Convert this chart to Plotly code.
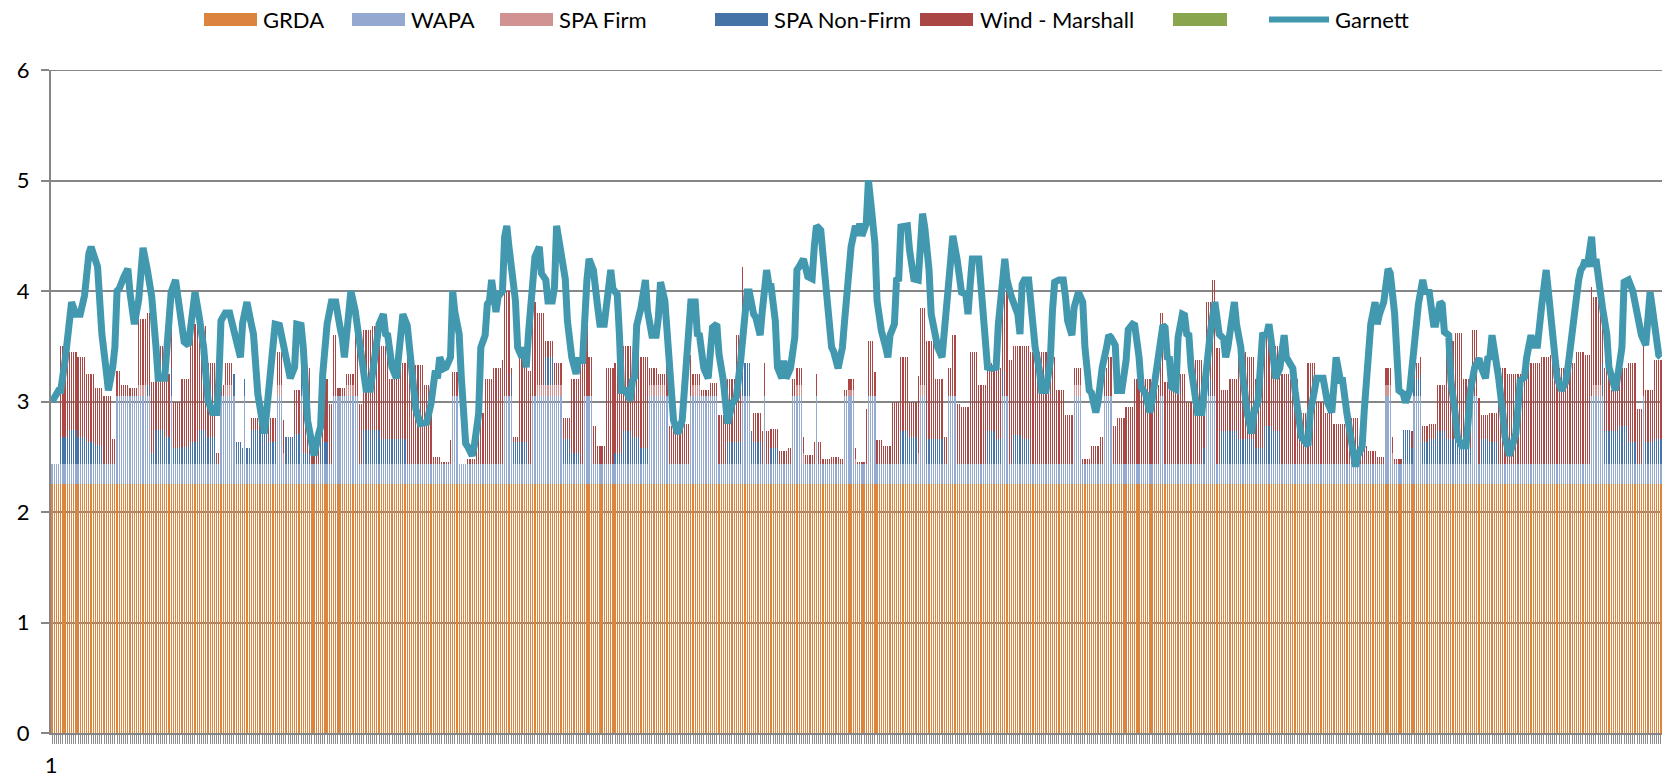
import numpy as np
import plotly.graph_objects as go

# ---------------- data ----------------
hours = list(range(1, 745))          # hourly categories (one month)
block_hours = 4                      # bar components read in 4-hour blocks

grda_level = 2.25
wapa_base = 0.18
wapa_high = 0.80
# hour ranges (inclusive) where WAPA reaches its high level
wapa_high_ranges = [(31, 46), (56, 56), (79, 85), (90, 90), (105, 107), (116, 116),
                    (131, 142), (186, 188), (210, 213), (223, 236), (247, 250),
                    (277, 285), (296, 308), (320, 323), (330, 330), (343, 347),
                    (354, 354), (367, 371), (378, 381), (402, 404), (415, 418),
                    (440, 442), (473, 476), (487, 490), (513, 514), (534, 538),
                    (617, 619), (630, 633), (657, 659), (712, 717), (736, 736)]

spa_nonfirm_blocks = [
    0, .25, .31, .25, .2, .18, 0, 0, 0, 0, 0, .1, .31, .25, .15, .16, .2, .31, .25, 0,
    0, .2, .15, .31, .31, .2, 0, .25, .28, .1, 0, .2, 0, 0, 0, 0, .31, .31, .23, .23,
    .23, 0, 0, 0, 0, 0, 0, 0, 0, 0, 0, 0, 0, .2, .2, 0, 0, .25, 0, .23,
    .1, 0, 0, 0, 0, .1, .3, .25, .15, 0, 0, 0, 0, 0, 0, 0, 0, 0, .2, .2,
    .3, .2, 0, .15, 0, 0, 0, 0, 0, 0, 0, 0, 0, 0, 0, 0, 0, 0, .3, .25,
    0, .23, .23, 0, 0, 0, 0, 0, .3, .23, 0, .27, .23, 0, 0, 0, 0, 0, 0, 0,
    0, 0, 0, 0, 0, 0, 0, 0, 0, 0, 0, 0, 0, .15, 0, .3, .3, .23, .23, .15,
    .35, .3, 0, 0, 0, 0, 0, 0, 0, 0, 0, 0, 0, 0, 0, 0, .31, .15, .2, .23,
    .3, .23, .23, .15, 0, .23, .2, 0, 0, 0, 0, 0, 0, 0, 0, 0, 0, 0, 0, .3,
    .3, .35, .2, 0, .2, .23]

spa_firm_blocks = [
    0, 0, 0, 0, 0, 0, 0, 0, 0, 0, .1, 0, 0, 0, 0, 0, 0, 0, 0, 0,
    .1, 0, 0, 0, 0, 0, .1, 0, 0, 0, 0, 0, 0, 0, .1, 0, 0, 0, 0, 0,
    0, 0, 0, 0, 0, 0, 0, 0, 0, 0, 0, 0, 0, 0, 0, 0, .1, .1, .1, 0,
    0, 0, 0, 0, 0, 0, 0, 0, 0, .1, .1, 0, 0, 0, .1, 0, 0, 0, 0, 0,
    0, 0, 0, 0, 0, 0, .1, 0, 0, 0, 0, 0, .05, 0, 0, 0, 0, 0, 0, 0,
    .1, 0, 0, 0, 0, 0, 0, 0, 0, 0, 0, 0, 0, 0, 0, 0, 0, 0, .1, 0,
    0, 0, 0, 0, 0, 0, 0, 0, 0, 0, 0, 0, 0, 0, 0, 0, 0, 0, 0, 0,
    0, 0, 0, 0, 0, 0, 0, 0, 0, 0, 0, 0, 0, 0, .1, 0, 0, 0, 0, 0,
    0, 0, 0, 0, 0, 0, 0, 0, 0, 0, 0, 0, 0, 0, 0, 0, 0, 0, .1, 0,
    0, 0, 0, 0, 0, 0]

wind_blocks = [
    0, .82, .71, .72, .62, .51, .62, .23, .10, .07, .60, .65, .76, .57, .42, .61, 1.07, .94, .67, .10,
    .20, 0, 0, .11, .16, .22, .30, 0, .39, .77, .17, .57, .55, .07, .10, .55, .91, .94, .84, .54,
    .69, .97, .90, .72, .07, .02, .22, 0, .05, .47, .77, .87, .95, .05, .82, .85, .65, .15, .20, .19,
    .67, .97, .35, .17, .87, .82, .77, .77, .82, .15, .10, .35, .35, .37, .10, .05, .12, .45, .57, .97,
    0, .27, .30, .17, .12, .15, .15, .09, .20, .05, .07, .05, .10, .02, .50, .22, .17, .57, .67, .32,
    .70, .89, .54, .25, .55, .52, 1.02, .72, .62, .64, .95, .80, .84, 1.02, 1.02, .97, .67, .45, .15, .05,
    .17, .25, .35, .42, .52, .77, .77, .72, .75, .67, .82, .57, .95, .70, 1.05, .37, .47, .79, .74, .62,
    .82, .77, .82, .77, .47, .92, .57, .47, .37, .37, .42, .17, .12, .07, .15, .05, 0, .15, .15, .14,
    .42, .89, .96, .62, .60, .22, .27, .87, .82, .82, .92, .92, .97, .99, .87, .92, 1.02, .99, .80, .57,
    .37, .52, .72, .50, .47, .72]

garnett_hours = [
    1, 4, 5, 7, 10, 12, 14, 15, 16, 18, 19, 22, 24, 26, 27, 29, 30, 31, 32, 34, 36, 37, 39, 41, 43, 45,
    47, 49, 50, 53, 56, 58, 60, 62, 64, 66, 67, 69, 71, 73, 75, 77, 78, 79, 81, 83, 86, 88, 89, 91, 93,
    94, 96, 98, 99, 100, 103, 104, 106, 107, 109, 111, 113, 114, 116, 117, 119, 122, 124,
    125, 126, 128, 130, 132, 134, 135, 136, 137, 139, 141, 143, 145, 146, 148, 150, 152, 154, 155, 156,
    158, 160, 162, 163, 165, 167, 169, 171, 174, 176, 178, 179, 180, 182, 183, 185, 186, 187, 189, 190,
    192, 193, 195, 196, 198, 199, 201, 202, 203, 204, 205, 206, 207, 209, 210, 211, 212, 215, 216, 218,
    219, 220, 221, 223, 224, 226, 227, 229, 230, 232, 233, 234, 235, 236, 237, 238, 239, 241, 243, 244,
    246, 247, 248, 249, 251, 253, 254, 256, 258, 259, 260, 262, 263, 264, 266, 268, 269, 270, 271, 273,
    275, 276, 278, 280, 281, 282, 284, 285, 287, 288, 290, 292, 293, 295, 296, 298, 299, 300, 302, 304,
    305, 306, 308, 309, 311, 313, 315, 317, 319, 321, 322, 323, 324, 325, 326, 328, 329, 330, 331, 332,
    333, 335, 336, 338, 339, 340, 342, 344, 345, 346, 348, 350, 352, 353, 354, 356, 357, 359, 361, 362,
    364, 366, 367, 369, 370, 372, 373, 374, 375, 377, 378, 379, 381, 382, 384, 386, 387, 388, 390, 391,
    392, 393, 396, 397, 399, 401, 402, 403, 404, 406, 407, 409, 410, 412, 413, 415, 417, 419, 420, 421,
    423, 424, 425, 426, 429, 430, 432, 433, 435, 437, 438, 440, 441, 442, 444, 447, 448, 449, 450, 452,
    453, 455, 457, 458, 460, 462, 463, 464, 466, 468, 469, 470, 472, 473, 475, 477, 478, 480, 481, 483,
    484, 486, 488, 489, 490, 492, 493, 495, 497, 498, 500, 501, 503, 504, 506, 508, 509, 511, 512, 514,
    515, 516, 517, 518, 520, 521, 523, 524, 525, 526, 527, 529, 530, 532, 533, 535, 536, 538, 539, 540,
    542, 543, 544, 546, 547, 548, 550, 551, 553, 555, 556, 558, 559, 560, 562, 563, 565, 566, 568, 570,
    571, 572, 574, 575, 577, 578, 581, 582, 584, 585, 588, 589, 590, 592, 593, 594, 596, 597, 599, 601,
    603, 604, 606, 607, 608, 610, 612, 613, 614, 616, 618, 619, 621, 623, 625, 626, 628, 629, 630, 631,
    632, 634, 635, 637, 638, 639, 640, 642, 643, 644, 646, 647, 649, 650, 652, 654, 655, 656, 658, 660,
    661, 663, 664, 665, 666, 667, 669, 671, 672, 674, 676, 677, 679, 681, 682, 684, 685, 687, 689, 690,
    691, 692, 693, 695, 696, 698, 700, 701, 703, 704, 706, 707, 708, 709, 710, 712, 713, 714, 715, 717,
    719, 720, 722, 723, 724, 726, 727, 729, 731, 733, 735, 737, 739, 740, 742, 743, 744]

garnett_values = [
    3.0, 3.1, 3.1, 3.37, 3.9, 3.79, 3.79, 3.9, 3.96, 4.34, 4.4, 4.22, 3.61, 3.28, 3.1, 3.31, 3.49, 4.0,
    4.02, 4.12, 4.2, 3.98, 3.7, 3.92, 4.39, 4.19, 3.95, 3.49, 3.21, 3.21, 3.99, 4.1, 3.85, 3.54, 3.51,
    3.88, 3.99, 3.76, 3.49, 3.01, 2.9, 2.9, 3.19, 3.73, 3.8, 3.8, 3.52, 3.4, 3.71, 3.9, 3.7, 3.61, 3.07,
    2.8, 2.71, 2.89, 3.49, 3.7, 3.69, 3.58, 3.37, 3.21, 3.31, 3.7, 3.69, 3.49, 2.83, 2.51, 2.7,
    2.77, 3.25, 3.7, 3.9, 3.9, 3.67, 3.58, 3.4, 3.67, 4.0, 3.82, 3.58, 3.25, 3.11, 3.11, 3.4, 3.7, 3.79,
    3.61, 3.6, 3.31, 3.21, 3.61, 3.79, 3.69, 3.31, 2.93, 2.8, 2.81, 2.98, 3.28, 3.21, 3.4, 3.3, 3.31,
    3.4, 4.0, 3.81, 3.61, 3.22, 2.62, 2.59, 2.51, 2.6, 2.89, 3.49, 3.6, 3.88, 3.91, 4.1, 3.91, 3.81,
    3.95, 4.0, 4.49, 4.59, 4.4, 3.91, 3.49, 3.4, 3.49, 3.31, 3.61, 4.19, 4.31, 4.4, 4.16, 4.1, 3.91,
    3.91, 4.03, 4.59, 4.46, 4.38, 4.25, 4.11, 3.73, 3.4, 3.25, 3.37, 3.37, 3.85, 4.1, 4.29, 4.19, 3.85,
    3.7, 3.7, 4.06, 4.19, 4.02, 3.97, 3.61, 3.1, 3.1, 3.01, 3.19, 3.22, 3.69, 3.85, 4.1, 3.82, 3.6, 3.6,
    3.76, 4.08, 3.91, 3.64, 3.19, 2.83, 2.71, 2.83, 3.1, 3.79, 3.9, 3.9, 3.61, 3.6, 3.3, 3.21, 3.46,
    3.67, 3.7, 3.43, 3.19, 2.8, 2.98, 3.04, 3.37, 3.82, 3.99, 3.99, 3.85, 3.79, 3.76, 3.6, 3.82, 4.1,
    4.19, 4.06, 4.05, 3.73, 3.31, 3.21, 3.37, 3.21, 3.3, 3.58, 4.19, 4.22, 4.29, 4.13, 4.11, 4.4, 4.59,
    4.55, 4.29, 3.91, 3.49, 3.45, 3.3, 3.49, 3.73, 4.13, 4.4, 4.59, 4.5, 4.61, 4.5, 4.61, 5.0, 4.82,
    4.43, 3.91, 3.64, 3.49, 3.4, 3.6, 3.7, 4.1, 4.11, 4.58, 4.59, 4.37, 4.11, 4.1, 4.58, 4.7, 4.58,
    4.19, 3.79, 3.52, 3.49, 3.4, 3.64, 4.19, 4.5, 4.28, 4.16, 3.99, 3.97, 3.79, 4.06, 4.29, 4.29, 4.0,
    3.61, 3.31, 3.3, 3.31, 3.7, 4.1, 4.29, 4.1, 3.95, 3.79, 3.61, 4.06, 4.1, 4.1, 3.88, 3.49, 3.28, 3.1,
    3.1, 3.37, 3.82, 4.08, 4.1, 4.1, 3.95, 3.73, 3.6, 3.85, 3.99, 3.9, 3.49, 3.1, 3.08, 2.9, 2.99, 3.31,
    3.49, 3.6, 3.58, 3.51, 3.1, 3.1, 3.37, 3.65, 3.7, 3.69, 3.4, 3.13, 3.07, 2.9, 3.01, 3.25, 3.46, 3.69,
    3.67, 3.4, 3.39, 3.13, 3.11, 3.58, 3.79, 3.78, 3.61, 3.6, 3.31, 3.01, 2.9, 2.9, 3.1, 3.49, 3.64,
    3.9, 3.79, 3.61, 3.57, 3.4, 3.49, 3.79, 3.9, 3.7, 3.49, 3.22, 2.89, 2.71, 2.89, 3.01, 3.49, 3.6,
    3.61, 3.7, 3.4, 3.21, 3.3, 3.6, 3.4, 3.37, 3.3, 3.1, 2.83, 2.68, 2.6, 2.89, 3.1, 3.21, 3.21, 3.07,
    2.99, 2.9, 3.19, 3.4, 3.19, 3.19, 2.89, 2.65, 2.41, 2.51, 2.59, 2.92, 3.25, 3.7, 3.9, 3.7, 3.79,
    3.9, 4.2, 4.16, 3.8, 3.1, 3.07, 2.99, 3.1, 3.31, 3.39, 3.7, 3.88, 4.1, 4.0, 3.99, 3.76, 3.7, 3.7,
    3.9, 3.88, 3.63, 3.6, 3.19, 2.89, 2.68, 2.6, 2.6, 2.83, 3.1, 3.31, 3.39, 3.31, 3.21, 3.39, 3.4, 3.6,
    3.49, 3.22, 2.89, 2.68, 2.51, 2.62, 2.71, 3.19, 3.22, 3.4, 3.6, 3.51, 3.51, 3.88, 4.13, 4.19, 4.0,
    3.82, 3.49, 3.22, 3.1, 3.17, 3.3, 3.61, 3.88, 4.1, 4.19, 4.22, 4.28, 4.22, 4.49, 4.22, 4.29, 4.1,
    3.85, 3.61, 3.31, 3.17, 3.1, 3.22, 3.49, 4.08, 4.1, 4.0, 3.79, 3.6, 3.51, 3.99, 3.85, 3.6, 3.42, 3.4]

series_names = ["GRDA", "WAPA", "SPA Firm", "SPA Non-Firm", "Wind - Marshall", "", "Garnett"]
series_colors = ["#DB843D", "#93A9CF", "#D19392", "#4572A7", "#AA4643", "#89A54E", "#4198AF"]
y_ticks = [0, 1, 2, 3, 4, 5, 6]

# ---------------- build hourly series ----------------
grda = [grda_level for _ in hours]
wapa = [wapa_high if any(a <= h <= b for a, b in wapa_high_ranges) else wapa_base for h in hours]
spa_firm = np.repeat(spa_firm_blocks, block_hours)[:len(hours)]
spa_nonfirm = np.repeat(spa_nonfirm_blocks, block_hours)[:len(hours)]
wind = np.repeat(wind_blocks, block_hours)[:len(hours)]


def rgba(hex_color, a):
    h = hex_color.lstrip("#")
    return "rgba(%d,%d,%d,%s)" % (int(h[0:2], 16), int(h[2:4], 16), int(h[4:6], 16), a)


fig = go.Figure()
for name, vals, col in zip(series_names[:5], [grda, wapa, spa_firm, spa_nonfirm, wind], series_colors[:5]):
    # alpha just below 1 keeps plotly from snapping the thin bars to whole pixels
    fig.add_trace(go.Bar(x=hours, y=vals, name=name,
                         marker=dict(color=rgba(col, 0.99), line=dict(width=0)),
                         showlegend=False))
fig.add_trace(go.Scatter(x=garnett_hours, y=garnett_values, mode="lines", name="Garnett",
                         line=dict(color=series_colors[6], width=7), showlegend=False))

# ---------------- layout ----------------
W, H = 1665, 779
PL, PR, PT, PB = 51, 1662, 70, 733          # plot area in page pixels
L, R, T, B = PL, W - PR, PT, H - PB
pw, ph = PR - PL, PB - PT
FONT = "Lato, 'Open Sans', sans-serif"


def px_x(x):   # page pixel -> paper
    return (x - PL) / pw


def px_y(y):   # page pixel -> paper
    return (PB - y) / ph


tick_text = ["1"] + ["" for _ in hours[1:]]

fig.update_layout(
    width=W, height=H, margin=dict(l=L, r=R, t=T, b=B, autoexpand=False),
    barmode="stack", bargap=0.45,
    plot_bgcolor="white", paper_bgcolor="white",
    font=dict(family=FONT, size=22, color="black"),
    xaxis=dict(range=[0.5, 744.5], showgrid=False, zeroline=False, automargin=False,
               showline=True, linecolor="#868686", linewidth=2,
               ticks="outside", ticklen=9, tickwidth=1, tickcolor="#8C8C8C",
               tickmode="array", tickvals=hours, ticktext=tick_text,
               ticklabelshift=-1, ticklabelstandoff=3,
               tickfont=dict(family=FONT, size=22, color="black")),
    yaxis=dict(range=[0, 6], tickvals=y_ticks, showgrid=True, gridcolor="#868686", gridwidth=2,
               zeroline=False, showline=True, linecolor="#868686", linewidth=2, automargin=False,
               ticks="outside", ticklen=8, tickwidth=2, tickcolor="#868686",
               ticklabelstandoff=7,
               tickfont=dict(family=FONT, size=22, color="black")),
)

# gridline at the top of the value axis
fig.add_shape(type="line", xref="paper", yref="y", x0=0, x1=1, y0=6, y1=6,
              line=dict(color="#868686", width=2), layer="below")

# custom legend (wide swatches like the original), positions in page pixels
sw_y0, sw_y1 = 13, 26
legend_items = [  # (kind, swatch x0, swatch x1, text x)
    ("bar", 204, 257, 261),
    ("bar", 352, 405, 409),
    ("bar", 500, 553, 557),
    ("bar", 715, 768, 772),
    ("bar", 920, 973, 978),
    ("bar", 1173, 1227, None),
    ("line", 1269, 1329, 1333),
]
for (kind, x0, x1, tx), name, col in zip(legend_items, series_names, series_colors):
    if kind == "bar":
        fig.add_shape(type="rect", xref="paper", yref="paper",
                      x0=px_x(x0), x1=px_x(x1), y0=px_y(sw_y1), y1=px_y(sw_y0),
                      fillcolor=col, line=dict(width=0))
    else:
        yc = (sw_y0 + sw_y1) / 2
        fig.add_shape(type="line", xref="paper", yref="paper",
                      x0=px_x(x0), x1=px_x(x1), y0=px_y(yc), y1=px_y(yc),
                      line=dict(color=col, width=6))
    if tx is not None and name:
        fig.add_annotation(text=name, xref="paper", yref="paper", x=px_x(tx),
                           y=px_y((sw_y0 + sw_y1) / 2), xanchor="left", yanchor="middle",
                           showarrow=False, font=dict(family=FONT, size=22, color="black"))

# remove the browser's default 8px page margin so the figure fills the window exactly
fig.write_html("out.html", config={"displayModeBar": False},
               post_script="document.body.style.margin='0';document.body.style.overflow='hidden';")
